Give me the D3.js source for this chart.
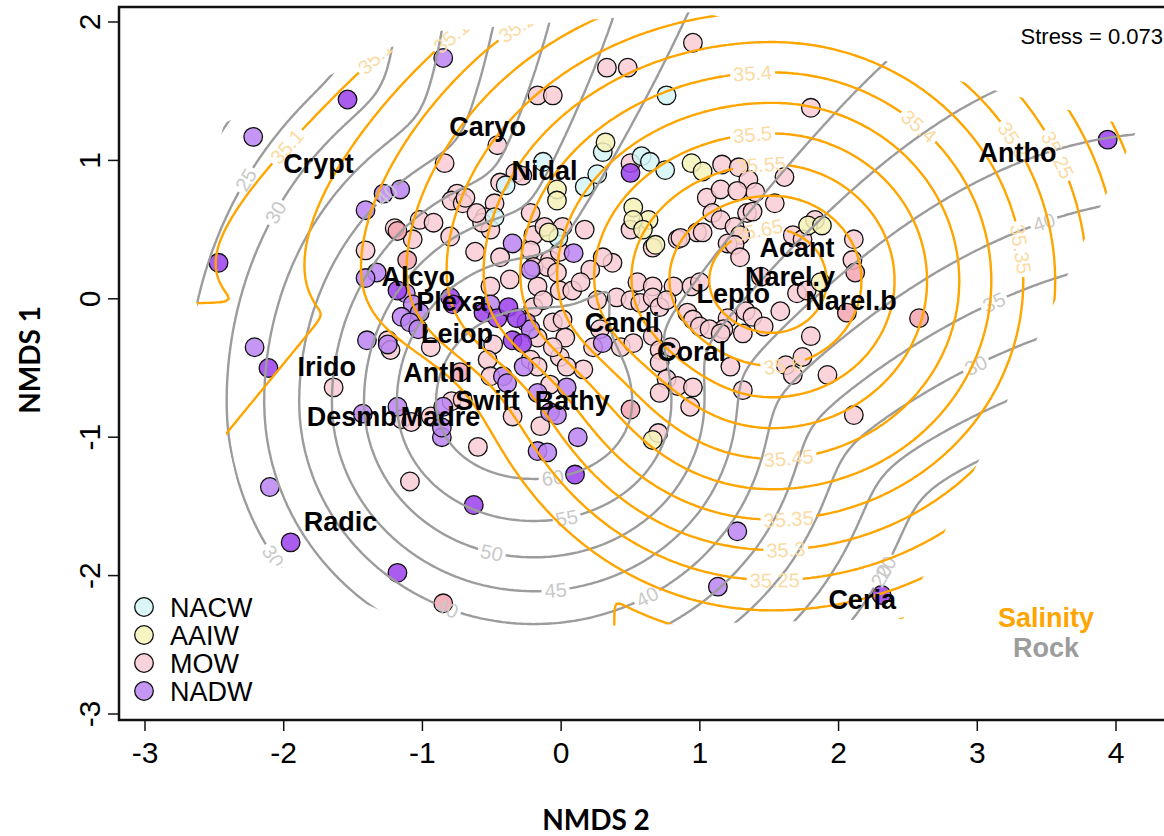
<!DOCTYPE html>
<html>
<head>
<meta charset="utf-8">
<script src="https://cdn.jsdelivr.net/npm/d3@7"></script>
<style>
body { margin: 0; background: #fff; }
svg { display: block; }
</style>
</head>
<body>
<script>
// site scores (NMDS 2, NMDS 1), one array per water mass
var nacw = [[0.76,1.47],[0.30,1.06],[-0.13,0.99],[-0.40,0.82],[0.17,0.81],[0.26,0.90],[0.58,1.03],[0.64,0.99],[0.75,0.93],[-0.02,0.44],[-0.48,0.59]];
var aaiw = [[0.32,1.13],[-0.03,0.79],[-0.03,0.71],[0.52,0.66],[0.63,0.57],[0.52,0.57],[0.59,0.50],[-0.09,0.48],[0.68,0.39],[0.94,0.98],[1.02,0.92],[1.78,0.53],[1.88,0.53],[1.87,0.12],[0.66,-1.02]];
var mow = [[0.95,1.85],[0.33,1.67],[0.48,1.67],[-0.17,1.47],[-0.06,1.47],[1.80,1.38],[-0.46,1.11],[-0.84,0.98],[0.50,0.98],[-0.33,0.91],[-0.28,0.89],[-0.75,0.76],[-0.79,0.71],[-0.71,0.69],[-1.02,0.57],[-0.48,0.69],[-0.55,0.59],[-0.22,0.62],[0.50,0.50],[0.84,0.43],[-1.07,0.43],[-0.80,0.45],[-0.51,0.50],[0.01,0.52],[-0.20,0.46],[0.66,0.37],[0.37,0.26],[-0.62,0.34],[-0.44,0.30],[-0.08,0.28],[-0.01,0.34],[-0.37,0.14],[-0.51,0.09],[0.55,0.12],[0.66,0.09],[0.81,0.09],[0.98,0.48],
  [1.16,0.97],[1.28,0.95],[1.35,0.86],[1.40,0.77],[1.61,0.88],[1.05,0.73],[1.15,0.79],[1.27,0.78],[1.54,0.69],[1.09,0.62],[1.15,0.57],[1.34,0.62],[1.38,0.63],[1.25,0.52],[1.29,0.46],[1.02,0.48],[1.20,0.40],[1.25,0.39],[1.29,0.30],[0.86,0.44],[1.83,0.57],[1.67,0.46],[1.74,0.43],[2.11,0.43],[2.10,0.28],[1.44,0.16],[0.94,0.09],[1.00,0.12],
  [-1.20,0.51],[-1.41,0.35],[-0.69,0.73],[-0.57,0.55],[-1.25,-0.30],[-1.23,-0.37],[-0.94,-0.35],[-0.49,-0.33],[-0.17,-0.28],[-0.12,0.52],[-0.22,0.35],[-0.20,0.23],[-0.10,0.23],[-0.03,0.19],[-0.17,0.09],[-0.01,0.06],[0.08,0.06],[-0.06,-0.17],[0.01,-0.15],[0.03,-0.28],[-0.53,-0.44],[-0.79,-0.74],[-0.71,-0.73],[-0.94,-0.85],[-0.35,-0.85],[-0.08,-0.62],[-1.64,-0.64],[-0.92,0.55],[-0.61,0.62],
  [-0.20,-0.06],[-0.13,-0.01],[0.26,-0.01],[0.40,0.01],[0.50,-0.01],[0.57,-0.03],[0.66,0.01],[0.71,-0.06],[0.76,-0.01],[0.28,-0.22],[0.23,-0.35],[0.43,-0.35],[0.52,-0.32],[0.66,-0.27],[0.71,-0.37],[0.79,-0.35],[0.71,-0.46],[0.76,-0.58],[0.84,-0.63],[0.71,-0.68],[0.95,-0.64],[0.93,-0.78],[0.70,-0.97],[0.16,-0.51],[-0.01,-0.42],[0.04,-0.49],[-0.06,-0.35],[-0.22,-0.44],[-0.17,-0.49],[-0.51,-0.56],[-0.15,-0.92],[-0.60,-1.07],[-1.09,-1.32],[-1.15,-0.87],[-1.08,-0.89],
  [1.70,0.04],[1.77,0.06],[1.58,-0.09],[1.33,-0.09],[1.38,-0.13],[1.46,-0.20],[1.20,-0.14],[1.17,-0.22],[1.31,-0.25],[0.91,-0.10],[0.95,-0.15],[1.00,-0.20],[1.07,-0.22],[1.15,-0.25],[1.22,-0.49],[1.31,-0.66],[1.80,-0.27],[1.74,-0.42],[1.62,-0.48],[1.67,-0.55],[1.92,-0.55],[2.11,-0.84],
  [-0.44,0.84],[0.17,0.50],[0.30,0.30],[0.21,0.21],[0.14,0.12]];
var mowDeep = [[-1.18,0.49],[-1.11,0.28],[-0.73,-0.53],[0.50,-0.80],[2.06,-0.10],[2.58,-0.14],[2.12,0.19],[-0.85,-2.20]];
var nadw = [[-0.85,1.74],[-2.22,1.17],[-1.28,0.76],[-1.16,0.79],[-1.41,0.64],[-1.33,0.19],[-1.41,0.15],[-1.12,0.04],[-1.07,-0.04],[-1.02,-0.10],[-1.15,-0.13],[-1.09,-0.17],[-1.40,-0.30],[-1.25,-0.33],[-1.03,-0.22],[-0.25,-0.17],[-0.22,-0.22],[-0.35,0.40],[0.09,0.33],[-0.22,0.21],[-0.27,-0.49],[-1.18,-0.78],[-1.43,-0.83],[-0.17,-0.68],[-0.08,-0.82],[-0.03,-0.84],[0.30,-0.32],[0.04,-0.64],[-0.42,-0.56],[-0.39,-0.61],[0.12,-1.00],[-0.17,-1.10],[-0.10,-1.11],[-0.86,-1.00],[-0.86,-0.93],[-0.85,-0.78],[-2.21,-0.35],[-2.10,-1.36],[1.13,-2.08],[1.27,-1.68],[-0.51,-0.04]];
var nadwDeep = [[-1.54,1.44],[-2.47,0.26],[3.94,1.15],[-1.18,0.06],[-0.80,0.01],[-0.78,-0.04],[-0.56,-0.10],[-0.46,-0.14],[-0.38,-0.06],[-0.32,-0.14],[-0.35,-0.30],[-0.28,-0.32],[0.10,-1.27],[-0.63,-1.49],[-2.11,-0.50],[-1.95,-1.76],[-1.18,-1.98],[2.31,-2.14],[0.50,0.91]];

// species scores
var speciesNames = ["Caryo","Crypt","Nidal","Antho","Acant","Narel.y","Narel.b","Lepto","Candi","Coral","Irido","Anthi","Desmb","Madre","Leiop","Plexa","Alcyo","Swift","Bathy","Radic","Ceria"];
var speciesX = [-0.53,-1.75,-0.12,3.29,1.70,1.65,2.09,1.24,0.44,0.94,-1.69,-0.89,-1.51,-0.87,-0.75,-0.79,-1.03,-0.53,0.08,-1.59,2.17];
var speciesY = [1.25,0.98,0.93,1.06,0.37,0.16,-0.01,0.04,-0.17,-0.38,-0.49,-0.53,-0.85,-0.85,-0.25,-0.02,0.16,-0.73,-0.73,-1.61,-2.17];

var legendNames = ["NACW", "AAIW", "MOW", "NADW"];
var xTicks = [-3, -2, -1, 0, 1, 2, 3, 4];
var yTicks = [-3, -2, -1, 0, 1, 2];
var salLevels = d3.range(35.05, 35.66, 0.05).map(v => +v.toFixed(2));
var rockLevels = [15, 20, 25, 30, 35, 40, 45, 50, 55, 60];
var stress = 0.073;

function smax(a, b, t) {
    var m = Math.max(a, b);
    return m + t * Math.log(1 + Math.exp(-Math.abs(a - b) / t));
}

// fitted surfaces (smooth fits, like ordisurf)
function salinity(px, py) {
    var dx = px - 1.52, dy = py - 0.13;
    var ax = 1.05;
    if (dx < 0) {
        ax = (0.95 + 0.26 / (1 + Math.exp(-(dy + 0.55) / 0.15))) *
             (1 + 0.055 * Math.pow(Math.max(0, -dx - 2.2), 2));
    }
    var ex = dx / ax;
    var cone = 35.75 - 0.23 * Math.sqrt(ex * ex + dy * dy + 0.048);
    var w = -0.77 * (px + 1.70) + 0.63 * (py + 0.2);
    var east = 0.3 * Math.max(0, px - 0.3);
    var floorA = 35.175 - 0.4 * Math.max(0, w) - east;
    var floorB = 35.12 - 0.3 * Math.max(0, py + 0.1) - east;
    return smax(cone, smax(floorA, floorB, 0.004), 0.006);
}
function rock(px, py) {
    var dx = px + 0.195, dy = py + 0.744;
    var ax = 1.05 + 0.5 * Math.exp(-(dx * dx + dy * dy) / 0.6);
    var ey = dy > 0 ? dy / 1.2 : dy;
    var r2 = dx * dx / (ax * ax) + ey * ey, r = Math.sqrt(r2);
    var peak = 64.5 - 23.6 * (Math.sqrt(r2 + 0.52) - 0.721) + 3 * Math.pow(Math.max(0, r - 1.5), 2);
    var u = dx * 0.557 + dy * 0.831, v = dx * 0.831 - dy * 0.557;
    var g = Math.max(5.5, 19.4 - 3.27 * u);
    var crest = 59.5 + 5 * Math.exp(-Math.max(0, u) / 0.4);
    var ridge = crest - g * (Math.sqrt(v * v + 0.047) - 0.216) - 27.7 * Math.max(0, -u);
    return smax(peak, ridge, 1.2);
}

// where the contour labels sit
var salLabelSpots = [[-2.18,1.28],[-1.32,1.73],[-0.76,1.91],[-0.30,1.94],[1.38,1.64],[1.38,1.23],[1.43,1.00],[1.42,0.46],[1.61,-0.55],[1.65,-1.18],[1.63,-1.58],[1.61,-1.80],[1.54,-2.10],[2.61,1.29],[3.19,1.10],[3.61,1.05],[3.38,0.37]];
var rockLabelSpots = [[-0.06,-1.27],[0.04,-1.56],[-0.48,-1.78],[-0.04,-2.05],[0.61,-2.14],[-0.79,-2.16],[-1.99,-1.80],[-1.20,0.68],[-1.95,0.56],[-2.35,0.90],[3.53,0.39],[3.17,-0.15],[3.06,-0.62],[2.30,-1.92],[2.39,-2.05]];

var W = 1164, H = 836;
var x = d3.scaleLinear().domain([-3, 4]).range([145, 1116]);
var y = d3.scaleLinear().domain([-3, 2]).range([714, 22]);

var svg = d3.select("body")
    .append("svg")
    .attr("width", W)
    .attr("height", H)
    .style("font-family", "'Liberation Sans', Arial, sans-serif");

var defs = svg.append("defs");
defs.append("clipPath").attr("id", "plotArea")
    .append("rect").attr("x", 119).attr("y", 7).attr("width", W - 119).attr("height", 713);

// points
function drawPoints(data, fill) {
    svg.append("g")
        .attr("clip-path", "url(#plotArea)")
        .selectAll("circle")
        .data(data)
        .enter()
        .append("circle")
        .attr("cx", d => x(d[0]))
        .attr("cy", d => y(d[1]))
        .attr("r", 9.3)
        .attr("fill", fill)
        .attr("fill-opacity", 0.85)
        .attr("stroke", "#111")
        .attr("stroke-width", 1.3);
}
drawPoints(mow, "#f9cdd4");
drawPoints(mowDeep, "#f2a4b1");
drawPoints(nacw, "#d4f4f6");
drawPoints(aaiw, "#f5f2b8");
drawPoints(nadw, "#bb84f2");
drawPoints(nadwDeep, "#9a3fea");

// hull of the sites, grown a little, limits the surfaces
var allPts = [].concat(nacw, aaiw, mow, mowDeep, nadw, nadwDeep).map(d => [x(d[0]), y(d[1])]);
var hull = d3.polygonHull(allPts);
var cen = d3.polygonCentroid(hull);
var hullBig = hull.map(p => {
    var dx = p[0] - cen[0], dy = p[1] - cen[1], l = Math.hypot(dx, dy);
    return [p[0] + dx / l * 32, p[1] + dy / l * 32];
});
defs.append("clipPath").attr("id", "hull")
    .append("polygon").attr("points", hullBig.map(p => p.join(",")).join(" "));

// grid + contours
var step = 0.02, gx0 = -3.4, gy0 = -3.2;
var gnx = Math.round((4.5 - gx0) / step) + 1, gny = Math.round((2.3 - gy0) / step) + 1;
function gridOf(f) {
    var v = new Float64Array(gnx * gny);
    for (var j = 0; j < gny; j++)
        for (var i = 0; i < gnx; i++)
            v[j * gnx + i] = f(gx0 + i * step, gy0 + j * step);
    return v;
}
function contourLines(f, levels) {
    var cs = d3.contours().size([gnx, gny]).thresholds(levels)(gridOf(f));
    return cs.map(c => ({
        value: c.value,
        rings: [].concat(...c.coordinates).map(ring => ring.map(p =>
            [x(gx0 + (p[0] - 0.5) * step), y(gy0 + (p[1] - 0.5) * step)]))
    }));
}
var salLines = contourLines(salinity, salLevels);
var rockLines = contourLines(rock, rockLevels);

function ringPath(r) { return "M" + r.map(p => p[0].toFixed(1) + "," + p[1].toFixed(1)).join("L"); }

function drawFamily(lines, spots, color, labelColor, fmt, id) {
    var mask = defs.append("mask").attr("id", id)
        .attr("maskUnits", "userSpaceOnUse")
        .attr("x", 0).attr("y", 0).attr("width", W).attr("height", H);
    mask.append("rect").attr("width", W).attr("height", H).attr("fill", "white");

    var g = svg.append("g").attr("clip-path", "url(#plotArea)")
        .append("g").attr("clip-path", "url(#hull)");
    g.append("g")
        .attr("mask", "url(#" + id + ")")
        .selectAll("path")
        .data(lines)
        .enter()
        .append("path")
        .attr("d", d => d.rings.map(ringPath).join(""))
        .attr("fill", "none")
        .attr("stroke", color)
        .attr("stroke-width", 2.4)
        .attr("stroke-linejoin", "round");

    var lab = g.append("g");
    spots.forEach(s => {
        var sp = [x(s[0]), y(s[1])], best = null;
        lines.forEach(l => l.rings.forEach(r => r.forEach((p, i) => {
            if (!d3.polygonContains(hullBig, p)) return;
            var dd = Math.hypot(p[0] - sp[0], p[1] - sp[1]);
            if (!best || dd < best.d) best = { d: dd, r: r, i: i, v: l.value };
        })));
        if (!best || best.d > 45) return;
        var r = best.r, n = r.length;
        var a = r[(best.i - 4 + n) % n], b = r[(best.i + 4) % n], p = r[best.i];
        var ang = Math.atan2(b[1] - a[1], b[0] - a[0]) * 180 / Math.PI;
        if (ang > 90) ang -= 180;
        if (ang < -90) ang += 180;
        var t = lab.append("text")
            .attr("transform", "translate(" + p[0] + "," + p[1] + ") rotate(" + ang + ")")
            .attr("text-anchor", "middle")
            .attr("dy", "0.36em")
            .attr("font-size", 20)
            .attr("fill", labelColor)
            .text(fmt(best.v));
        var w = t.node().getComputedTextLength() + 6;
        mask.append("rect")
            .attr("x", -w / 2).attr("y", -9).attr("width", w).attr("height", 18)
            .attr("transform", "translate(" + p[0] + "," + p[1] + ") rotate(" + ang + ")")
            .attr("fill", "black");
    });
}
drawFamily(rockLines, rockLabelSpots, "#9c9c9c", "#c9c9c9", v => String(v), "rockGap");
drawFamily(salLines, salLabelSpots, "#ffa500", "#fadba4", v => v.toFixed(2).replace(/0$/, ""), "salGap");

// species labels
svg.append("g")
    .selectAll("text")
    .data(speciesNames)
    .enter()
    .append("text")
    .attr("x", (d, i) => x(speciesX[i]))
    .attr("y", (d, i) => y(speciesY[i]))
    .attr("dy", "0.36em")
    .attr("text-anchor", "middle")
    .attr("font-size", 27)
    .attr("font-weight", "bold")
    .attr("fill", "#000")
    .text(d => d);

// box
svg.append("path")
    .attr("d", "M" + (W + 5) + ",7H119V720H" + (W + 5))
    .attr("fill", "none")
    .attr("stroke", "#111")
    .attr("stroke-width", 2.5);

// axes
svg.append("g").selectAll("line").data(xTicks).enter().append("line")
    .attr("x1", d => x(d)).attr("x2", d => x(d))
    .attr("y1", 720).attr("y2", 731)
    .attr("stroke", "#111").attr("stroke-width", 1.5);
svg.append("g").selectAll("text").data(xTicks).enter().append("text")
    .attr("x", d => x(d)).attr("y", 763)
    .attr("text-anchor", "middle")
    .attr("font-size", 30)
    .text(d => d);
svg.append("g").selectAll("line").data(yTicks).enter().append("line")
    .attr("x1", 119).attr("x2", 108)
    .attr("y1", d => y(d)).attr("y2", d => y(d))
    .attr("stroke", "#111").attr("stroke-width", 1.5);
svg.append("g").selectAll("text").data(yTicks).enter().append("text")
    .attr("transform", d => "translate(100," + y(d) + ") rotate(-90)")
    .attr("text-anchor", "middle")
    .attr("font-size", 30)
    .text(d => d);

svg.append("text")
    .attr("x", 596).attr("y", 830)
    .attr("text-anchor", "middle")
    .attr("font-family", "Lato, 'Open Sans', sans-serif")
    .attr("font-weight", "bold")
    .attr("font-size", 28)
    .text("NMDS 2");
svg.append("text")
    .attr("transform", "translate(40,360) rotate(-90)")
    .attr("text-anchor", "middle")
    .attr("font-family", "Lato, 'Open Sans', sans-serif")
    .attr("font-weight", "bold")
    .attr("font-size", 28)
    .text("NMDS 1");

svg.append("text")
    .attr("x", 1163).attr("y", 44)
    .attr("text-anchor", "end")
    .attr("font-size", 22)
    .text("Stress = " + stress);

// legend
var legColors = ["#d4f4f6", "#f5f2b8", "#f9cdd4", "#bb84f2"];
var leg = svg.append("g").selectAll("g").data(legendNames).enter().append("g")
    .attr("transform", (d, i) => "translate(144," + (607 + i * 28) + ")");
leg.append("circle").attr("r", 9.3)
    .attr("fill", (d, i) => legColors[i]).attr("fill-opacity", 0.85)
    .attr("stroke", "#111").attr("stroke-width", 1.3);
leg.append("text").attr("x", 26).attr("dy", "0.36em")
    .attr("font-size", 27).text(d => d);

svg.append("text").attr("x", 1046).attr("y", 627).attr("text-anchor", "middle")
    .attr("font-size", 27).attr("font-weight", "bold").attr("fill", "#ffa500").text("Salinity");
svg.append("text").attr("x", 1046).attr("y", 657).attr("text-anchor", "middle")
    .attr("font-size", 27).attr("font-weight", "bold").attr("fill", "#9c9c9c").text("Rock");
</script>
</body>
</html>
